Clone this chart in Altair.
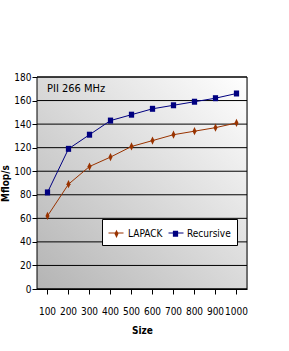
import altair as alt
import pandas as pd

sizes = ["100", "200", "300", "400", "500", "600", "700", "800", "900", "1000"]
lapack = [62, 89, 104, 112, 121, 126, 131, 134, 137, 141]
recursive = [82, 119, 131, 143, 148, 153, 156, 159, 162, 166]
series_names = ["LAPACK", "Recursive"]
line_ids = ["LAPACK_", "Recursive_"]
colors = ["#993300", "#000080"]
y_ticks = [0, 20, 40, 60, 80, 100, 120, 140, 160, 180]

rows = []
for s, a, b in zip(sizes, lapack, recursive):
    rows.append({"size": s, "value": a, "series": "LAPACK", "line_id": "LAPACK_"})
    rows.append({"size": s, "value": b, "series": "Recursive", "line_id": "Recursive_"})
df = pd.DataFrame(rows)

FONT = "Liberation Sans Narrow, DejaVu Sans Condensed, Liberation Sans"

x = alt.X("size:O", sort=sizes, title="Size", bandPosition=0.5,
          scale=alt.Scale(type="band", paddingInner=0, paddingOuter=0),
          axis=alt.Axis(labelAngle=0, ticks=True, tickSize=5, tickColor="black",
                        tickWidth=1, domainColor="black", labelPadding=12,
                        titlePadding=9,
                        labelFont=FONT, labelFontSize=10, labelColor="black",
                        titleFont=FONT, titleFontSize=10, titleFontWeight="bold",
                        titleColor="black"))
y_scale = alt.Scale(domain=[0, 180], nice=False)
y_axis = alt.Axis(values=y_ticks, grid=False, tickSize=5, tickColor="black",
                  domainColor="black", labelPadding=1,
                  labelFont=FONT, labelFontSize=10, labelColor="black",
                  titleFont=FONT, titleFontSize=10, titleFontWeight="bold",
                  titleColor="black", titlePadding=3)
y = alt.Y("value:Q", title="Mflop/s", scale=y_scale, axis=y_axis)

color_scale = alt.Scale(domain=series_names, range=colors)
marker_shapes = [
    "M0,-0.55L0.27,0L0,0.55L-0.27,0Z",
    "M-0.35,-0.4H0.35V0.4H-0.35Z",
]
shape_scale = alt.Scale(domain=series_names, range=marker_shapes)

common_leg = dict(orient="none", legendX=65, legendY=142,
                  direction="horizontal", padding=6,
                  symbolSize=225, labelFont=FONT, labelFontSize=10,
                  labelColor="black", columnPadding=4, labelOffset=3)

bg = alt.Chart(pd.DataFrame({"k": [0]})).mark_rect(
    stroke="black", strokeWidth=1,
    color=alt.LinearGradient(gradient="linear",
                             stops=[alt.GradientStop(offset=0, color="#b4b4b4"),
                                    alt.GradientStop(offset=1, color="#ffffff")],
                             x1=0, y1=1, x2=1, y2=0)
).encode(x=alt.value(0), x2=alt.value("width"), y=alt.value(0), y2=alt.value("height"))

grid = alt.Chart(pd.DataFrame({"value": y_ticks})).mark_rule(
    color="black", strokeWidth=1).encode(
    y=alt.Y("value:Q", title="Mflop/s", scale=y_scale, axis=y_axis),
    x=alt.value(0), x2=alt.value("width"))

lines = alt.Chart(df).mark_line(strokeWidth=1).encode(
    x=x, y=y,
    stroke=alt.Stroke("line_id:N", scale=alt.Scale(domain=line_ids, range=colors),
                      title=None,
                      legend=alt.Legend(symbolType="stroke", symbolStrokeWidth=1,
                                        labelOpacity=0, zindex=2,
                                        labelExpr="replace(datum.label, '_', '')",
                                        **common_leg)))

pts = alt.Chart(df).mark_point(filled=True, size=225, opacity=1).encode(
    x=x, y=y,
    color=alt.Color("series:N", scale=color_scale, title=None,
                    legend=alt.Legend(fillColor="white", strokeColor="black",
                                      zindex=1, **common_leg)),
    shape=alt.Shape("series:N", scale=shape_scale, title=None,
                    legend=alt.Legend(fillColor="white", strokeColor="black",
                                      zindex=1, **common_leg)))

chart = alt.layer(bg, grid, lines, pts).properties(
    width=210, height=212,
    title=alt.TitleParams("PII 266 MHz", anchor="start", frame="group",
                          dx=10, dy=26, font=FONT, fontSize=11,
                          fontWeight="normal", color="black"),
    autosize=alt.AutoSizeParams(type="none"),
    padding={"left": 37, "top": 77, "right": 42, "bottom": 62},
).configure_view(
    stroke="black", strokeWidth=1,
).configure(background="white")

chart.save("out.html", embed_options={"renderer": "svg", "actions": False})
